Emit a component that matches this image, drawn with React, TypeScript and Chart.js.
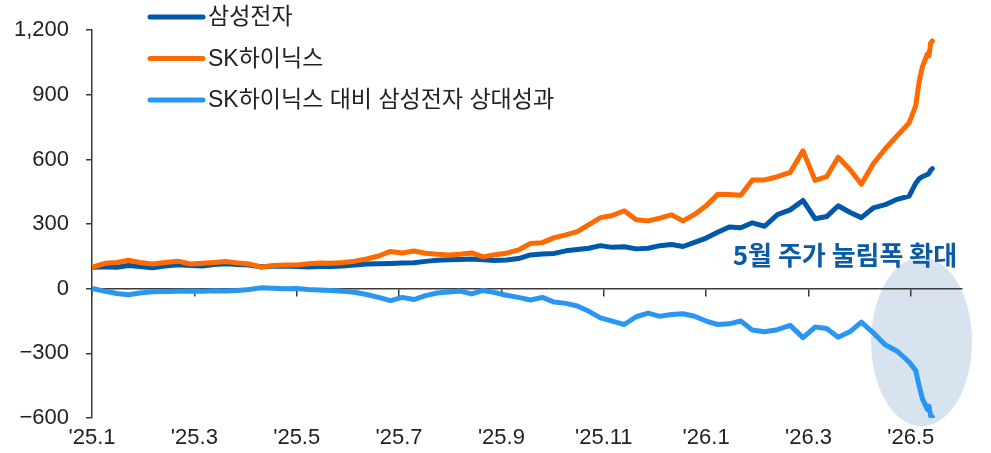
import React, { useEffect, useRef } from 'react';
import { Chart, registerables } from 'chart.js';

Chart.register(...registerables);

// ---- data -----------------------------------------------------------------
const dates = [
  '2025-01-02', '2025-01-09', '2025-01-16', '2025-01-23', '2025-01-30',
  '2025-02-06', '2025-02-13', '2025-02-20', '2025-02-27',
  '2025-03-06', '2025-03-13', '2025-03-20', '2025-03-27',
  '2025-04-03', '2025-04-10', '2025-04-17', '2025-04-24',
  '2025-05-01', '2025-05-08', '2025-05-15', '2025-05-22', '2025-05-29',
  '2025-06-05', '2025-06-12', '2025-06-19', '2025-06-26',
  '2025-07-03', '2025-07-10', '2025-07-17', '2025-07-24', '2025-07-31',
  '2025-08-07', '2025-08-14', '2025-08-21', '2025-08-28',
  '2025-09-04', '2025-09-11', '2025-09-18', '2025-09-25',
  '2025-10-02', '2025-10-09', '2025-10-16', '2025-10-23', '2025-10-30',
  '2025-11-06', '2025-11-13', '2025-11-20', '2025-11-27',
  '2025-12-04', '2025-12-11', '2025-12-18', '2025-12-25',
  '2026-01-01', '2026-01-08', '2026-01-15', '2026-01-22', '2026-01-29',
  '2026-02-05', '2026-02-12', '2026-02-19', '2026-02-26',
  '2026-03-05', '2026-03-12', '2026-03-19', '2026-03-26',
  '2026-04-02', '2026-04-09', '2026-04-16', '2026-04-23', '2026-04-30',
  '2026-05-04', '2026-05-06', '2026-05-08', '2026-05-11', '2026-05-12', '2026-05-13', '2026-05-14',
];

const samsung = [
  100, 102, 100, 108, 103,
  97, 105, 111, 108,
  106, 112, 116, 112,
  110, 102, 104, 105,
  103, 101, 103, 103, 106,
  110, 115, 116, 117,
  119, 121, 127, 132, 134,
  136, 138, 135, 131,
  133, 140, 157, 161,
  164, 176, 182, 188, 200,
  192, 195, 185, 188,
  200, 205, 196, 215,
  235, 262, 287, 283, 306,
  290, 344, 366, 410,
  325, 335, 385, 355,
  330, 375, 390, 415, 430,
  490, 510, 520, 530, 535, 550, 557,
];

const skHynix = [
  102, 118, 122, 132, 122,
  115, 122, 128, 115,
  118, 122, 126, 120,
  115, 100, 108, 110,
  110, 116, 119, 118, 122,
  128, 138, 152, 173,
  166, 175, 165, 160, 157,
  160, 166, 148, 158,
  165, 180, 210, 214,
  237, 250, 265, 298, 330,
  340, 362, 320, 315,
  328, 343, 315, 345,
  385, 438, 437, 434, 505,
  505, 520, 540, 640,
  503, 520, 610, 555,
  485, 580, 650, 710, 770,
  850, 960, 1030, 1090, 1080, 1140, 1150,
];

const relative = [
  0, -12, -22, -28, -20,
  -14, -13, -12, -10,
  -12, -9, -10, -8,
  -4, 4, 2, 0,
  1, -4, -6, -8, -12,
  -16, -27, -40, -55,
  -40, -50, -32, -20, -15,
  -11, -24, -8, -18,
  -30, -40, -52, -40,
  -62, -68, -80, -105, -135,
  -150, -166, -130, -113,
  -128, -120, -116, -128,
  -150, -166, -163, -150, -192,
  -200, -190, -170, -227,
  -178, -185, -225, -200,
  -155, -205, -260, -290, -340,
  -380, -450, -510, -560, -545, -590, -595,
];

const seriesNames = ['삼성전자', 'SK하이닉스', 'SK하이닉스 대비 삼성전자 상대성과'];
const seriesColors = ['#0058a8', '#ff6a00', '#2a96f4'];
const tickMonths = [0, 2, 4, 6, 8, 10, 12, 14, 16];
const tickLabels = ["'25.1", "'25.3", "'25.5", "'25.7", "'25.9", "'25.11", "'26.1", "'26.3", "'26.5"];
const yTicks = [-600, -300, 0, 300, 600, 900, 1200];
const annotationText = '5월 주가 눌림폭 확대';

// ---- helpers --------------------------------------------------------------
function toMonthIndex(s: string): number {
  const [y, m, d] = s.split('-').map(Number);
  const dim = new Date(y, m, 0).getDate();
  return (y - 2025) * 12 + (m - 1) + (d - 1) / dim;
}

function fmtY(v: number): string {
  const s = Math.abs(v).toLocaleString('en-US');
  return v < 0 ? '\u2212' + s : s;
}

const FONT = '"Liberation Sans", "Noto Sans CJK KR", Arial, sans-serif';
const AXIS = '#3a3a3a';

const overlayPlugin = {
  id: 'overlay',
  beforeDraw(chart: any) {
    const { ctx, scales } = chart;
    const x = scales.x;
    const y = scales.y;
    const cx = x.getPixelForValue(16.21);
    const cy = y.getPixelForValue(-246);
    const rx = x.getPixelForValue(16.21 + 0.986) - cx;
    const ry = cy - y.getPixelForValue(-246 + 392);
    ctx.save();
    ctx.fillStyle = '#d8e3f0';
    ctx.beginPath();
    ctx.ellipse(cx, cy, rx, ry, 0, 0, Math.PI * 2);
    ctx.fill();
    ctx.restore();
  },
  afterDraw(chart: any) {
    const { ctx, scales } = chart;
    ctx.save();
    chart.data.datasets.forEach((ds: any, i: number) => {
      const yy = 17 + i * 41.5;
      ctx.strokeStyle = ds.borderColor;
      ctx.lineWidth = 5;
      ctx.lineCap = 'round';
      ctx.beginPath();
      ctx.moveTo(150, yy);
      ctx.lineTo(203, yy);
      ctx.stroke();
      ctx.fillStyle = '#222';
      ctx.font = '23px ' + FONT;
      ctx.textBaseline = 'middle';
      ctx.textAlign = 'left';
      ctx.fillText(ds.label, 208, yy + 1);
    });
    ctx.font = 'bold 26px "Noto Sans CJK KR", ' + FONT;
    ctx.fillStyle = '#0b5aa6';
    ctx.textBaseline = 'middle';
    ctx.textAlign = 'left';
    ctx.fillText(annotationText, scales.x.getPixelForValue(12.52), scales.y.getPixelForValue(155));
    ctx.restore();
  },
};

export default function App() {
  const ref = useRef<HTMLCanvasElement | null>(null);

  useEffect(() => {
    if (!ref.current) return;
    const xs = dates.map(toMonthIndex);
    const series = [samsung, skHynix, relative];
    const orders = [1, 0, 2];
    const chart = new Chart(ref.current, {
      type: 'line',
      data: {
        datasets: series.map((vals, i) => ({
          label: seriesNames[i],
          data: vals.map((v, j) => ({ x: xs[j], y: v })),
          borderColor: seriesColors[i],
          backgroundColor: seriesColors[i],
          borderWidth: 5,
          pointRadius: 0,
          tension: 0,
          borderJoinStyle: 'round',
          borderCapStyle: 'round',
          order: orders[i],
          xAxisID: 'x',
          yAxisID: 'y',
        })),
      },
      options: {
        responsive: false,
        animation: false,
        devicePixelRatio: 1,
        layout: { padding: { left: 0, right: 29, top: 24, bottom: 0 } },
        plugins: { legend: { display: false }, tooltip: { enabled: false } },
        scales: {
          x: {
            type: 'linear',
            position: 'bottom',
            min: 0,
            max: 17,
            afterBuildTicks: (s: any) => { s.ticks = tickMonths.map((v) => ({ value: v })); },
            afterFit: (s: any) => { s.height = 35; },
            grid: { display: false, drawTicks: false },
            border: { display: false },
            ticks: {
              autoSkip: false,
              maxRotation: 0,
              padding: 7,
              color: '#222',
              font: { family: FONT, size: 22 },
              callback: (_v: any, i: number) => tickLabels[i],
            },
          },
          x2: {
            type: 'linear',
            axis: 'x',
            position: { y: 0 },
            min: 0,
            max: 17,
            afterBuildTicks: (s: any) => { s.ticks = tickMonths.map((v) => ({ value: v })); },
            grid: { drawOnChartArea: false, drawTicks: true, tickLength: 7, color: AXIS, lineWidth: 1.5 },
            border: { display: true, color: AXIS, width: 1.5 },
            ticks: { display: false },
          },
          y: {
            type: 'linear',
            min: -600,
            max: 1200,
            afterBuildTicks: (s: any) => { s.ticks = yTicks.map((v) => ({ value: v })); },
            afterFit: (s: any) => { s.width = 92; },
            grid: { drawOnChartArea: false, drawTicks: true, tickLength: 6, color: AXIS, lineWidth: 1.5 },
            border: { color: AXIS, width: 1.5 },
            ticks: {
              padding: 17,
              color: '#222',
              font: { family: FONT, size: 22 },
              callback: (v: any) => fmtY(Number(v)),
            },
          },
        },
      } as any,
      plugins: [overlayPlugin],
    });
    return () => chart.destroy();
  }, []);

  return (
    <div style={{ position: 'absolute', left: 0, top: 0, width: 991, height: 453, background: '#fff' }}>
      <canvas ref={ref} width={991} height={453} style={{ width: 991, height: 453, display: 'block' }} />
    </div>
  );
}
